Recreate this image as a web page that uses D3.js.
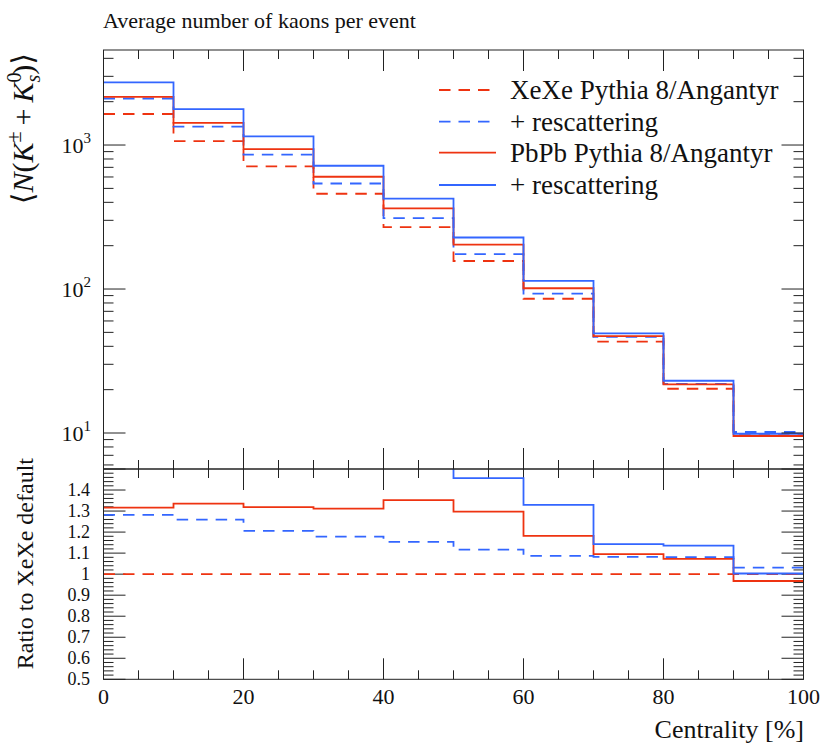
<!DOCTYPE html>
<html>
<head>
<meta charset="utf-8">
<title>Average number of kaons per event</title>
<script src="https://d3js.org/d3.v7.min.js"></script>
<style>
  body { margin: 0; background: #fff; }
  text { font-family: "Liberation Serif", "DejaVu Serif", serif; fill: #111; }
  .frame { fill: none; stroke: #222; stroke-width: 1; }
  .tick { stroke: #222; stroke-width: 1; }
  .hist { fill: none; stroke-width: 1.8; }
</style>
</head>
<body>
<script>
// bin edges of the centrality histogram [%]
var edges = [0, 10, 20, 30, 40, 50, 60, 70, 80, 90, 100];

// average number of kaons per event, one value per bin
var xeDefault = [1642, 1066, 711, 459, 269, 156.5, 85.6, 43.05, 20.3, 9.85];
var xeRescat  = [2105, 1342, 857.5, 540.7, 310.4, 174.7, 93.0, 46.58, 21.94, 10.16];
var pbDefault = [2162, 1423, 937.8, 602.2, 363.7, 203.1, 101.2, 47.14, 21.78, 9.53];
var pbRescat  = [2725, 1778, 1149, 718, 424, 228, 113.8, 49.2, 23.06, 9.88];

var legendLabels = ["XeXe Pythia 8/Angantyr", "+ rescattering",
                    "PbPb Pythia 8/Angantyr", "+ rescattering"];

// tick values
var xMajor = [0, 20, 40, 60, 80, 100];
var xMinor = d3.range(0, 101, 5);
var yDecades = [1, 2, 3];
var ratioMajor = [0.5, 0.6, 0.7, 0.8, 0.9, 1.0, 1.1, 1.2, 1.3, 1.4];
var ratioLabels = ["0.5", "0.6", "0.7", "0.8", "0.9", "1", "1.1", "1.2", "1.3", "1.4"];

var red = "#ee3311", blue = "#3366ff";
var series = [
  {vals: xeDefault, color: red,  dash: "11.5,8"},
  {vals: xeRescat,  color: blue, dash: "11.5,8"},
  {vals: pbDefault, color: red,  dash: null},
  {vals: pbRescat,  color: blue, dash: null}
];

// layout
var left = 103.5, right = 803.5;
var mainTop = 50, mainBot = 469, ratTop = 469, ratBot = 679.3;

var svg = d3.select("body").append("svg")
    .attr("width", 830)
    .attr("height", 750);

var x = d3.scaleLinear().domain([0, 100]).range([left, right]);
var y = d3.scaleLog().domain([Math.pow(10, 0.75), Math.pow(10, 3.66)]).range([mainBot, mainTop]);
var yr = d3.scaleLinear().domain([0.5, 1.5]).range([ratBot, ratTop]);

// clip paths
var defs = svg.append("defs");
defs.append("clipPath").attr("id", "clipMain").append("rect")
    .attr("x", left).attr("y", mainTop).attr("width", right - left).attr("height", mainBot - mainTop);
defs.append("clipPath").attr("id", "clipRatio").append("rect")
    .attr("x", left).attr("y", ratTop).attr("width", right - left).attr("height", ratBot - ratTop);

// step line: one point per bin plus the right edge of the last bin
function stepPath(vals, yscale) {
  var pts = vals.map(function(v, i) { return [edges[i], v]; });
  pts.push([edges[edges.length - 1], vals[vals.length - 1]]);
  return d3.line()
      .x(function(d) { return x(d[0]); })
      .y(function(d) { return yscale(d[1]); })
      .curve(d3.curveStepAfter)(pts);
}

function tickLine(g, x1, y1, x2, y2) {
  g.append("line").attr("class", "tick")
      .attr("x1", x1).attr("y1", y1).attr("x2", x2).attr("y2", y2);
}

// ---- main panel ----
var gMain = svg.append("g").attr("clip-path", "url(#clipMain)");
series.forEach(function(s) {
  gMain.append("path")
      .attr("class", "hist")
      .attr("d", stepPath(s.vals, y))
      .attr("stroke", s.color)
      .attr("stroke-dasharray", s.dash);
});

var gAx = svg.append("g");

// x ticks on both panels
xMinor.forEach(function(v) {
  var major = xMajor.indexOf(v) >= 0;
  var len = major ? 21 : 9;
  tickLine(gAx, x(v), mainTop, x(v), mainTop + len);
  tickLine(gAx, x(v), mainBot, x(v), mainBot - len);
  tickLine(gAx, x(v), ratTop, x(v), ratTop + len);
  tickLine(gAx, x(v), ratBot, x(v), ratBot - len);
});

// log y ticks
var yMinor = [];
[0, 1, 2, 3].forEach(function(d) {
  for (var m = 1; m < 10; m++) {
    var v = m * Math.pow(10, d);
    if (v >= y.domain()[0] && v <= y.domain()[1]) yMinor.push({v: v, major: m === 1});
  }
});
yMinor.forEach(function(t) {
  var len = t.major ? 22 : 10;
  tickLine(gAx, left, y(t.v), left + len, y(t.v));
  tickLine(gAx, right, y(t.v), right - len, y(t.v));
});

yDecades.forEach(function(d) {
  var t = gAx.append("text")
      .attr("x", 91).attr("y", y(Math.pow(10, d)) + 8)
      .attr("text-anchor", "end")
      .style("font-size", "22px");
  t.append("tspan").text("10");
  t.append("tspan").attr("dy", -10).style("font-size", "15px").text(d);
});

// ---- ratio panel ----
var gRat = svg.append("g").attr("clip-path", "url(#clipRatio)");
series.forEach(function(s) {
  var r = s.vals.map(function(v, i) { return v / xeDefault[i]; });
  gRat.append("path")
      .attr("class", "hist")
      .attr("d", stepPath(r, yr))
      .attr("stroke", s.color)
      .attr("stroke-dasharray", s.dash);
});

d3.range(0.5, 1.501, 0.02).forEach(function(v) {
  var major = Math.abs(Math.round(v * 10) - v * 10) < 1e-6;
  var len = major ? 22 : 10;
  tickLine(gAx, left, yr(v), left + len, yr(v));
  tickLine(gAx, right, yr(v), right - len, yr(v));
});

ratioMajor.forEach(function(v, i) {
  gAx.append("text")
      .attr("x", 90).attr("y", yr(v) + 6)
      .attr("text-anchor", "end")
      .style("font-size", "18px")
      .text(ratioLabels[i]);
});

// frames
svg.append("rect").attr("class", "frame")
    .attr("x", left).attr("y", mainTop).attr("width", right - left).attr("height", mainBot - mainTop);
svg.append("rect").attr("class", "frame")
    .attr("x", left).attr("y", ratTop).attr("width", right - left).attr("height", ratBot - ratTop);

// x tick labels
xMajor.forEach(function(v) {
  svg.append("text")
      .attr("x", x(v)).attr("y", 704)
      .attr("text-anchor", "middle")
      .style("font-size", "22px")
      .text(v);
});

// titles and axis labels
svg.append("text")
    .attr("x", 103).attr("y", 28)
    .style("font-size", "22px")
    .text("Average number of kaons per event");

svg.append("text")
    .attr("x", 804).attr("y", 738)
    .attr("text-anchor", "end")
    .style("font-size", "26px")
    .text("Centrality [%]");

svg.append("text")
    .attr("transform", "translate(33,458) rotate(-90)")
    .attr("text-anchor", "end")
    .style("font-size", "24px")
    .text("Ratio to XeXe default");

var yl = svg.append("text")
    .attr("transform", "translate(33,53) rotate(-90)")
    .attr("text-anchor", "end")
    .style("font-size", "30px");
yl.append("tspan").text("\u27E8");
yl.append("tspan").style("font-style", "italic").text("N");
yl.append("tspan").text("(");
yl.append("tspan").style("font-style", "italic").text("K");
yl.append("tspan").attr("dy", -12).style("font-size", "20px").text("\u00B1");
yl.append("tspan").attr("dy", 12).text("\u2009+\u2009");
yl.append("tspan").style("font-style", "italic").text("K");
yl.append("tspan").attr("dy", -12).style("font-size", "20px").text("0");
yl.append("tspan").attr("dx", -10).attr("dy", 19).style("font-size", "20px").style("font-style", "italic").text("s");
yl.append("tspan").attr("dy", -7).text(")\u27E9");

// legend
var legY = [90, 121.7, 152.7, 185];
series.forEach(function(s, i) {
  svg.append("line")
      .attr("x1", 439).attr("x2", 496)
      .attr("y1", legY[i]).attr("y2", legY[i])
      .attr("stroke", s.color)
      .attr("stroke-width", 1.8)
      .attr("stroke-dasharray", s.dash);
  svg.append("text")
      .attr("x", 510).attr("y", legY[i] + 9)
      .style("font-size", "27px")
      .text(legendLabels[i]);
});
</script>
</body>
</html>
